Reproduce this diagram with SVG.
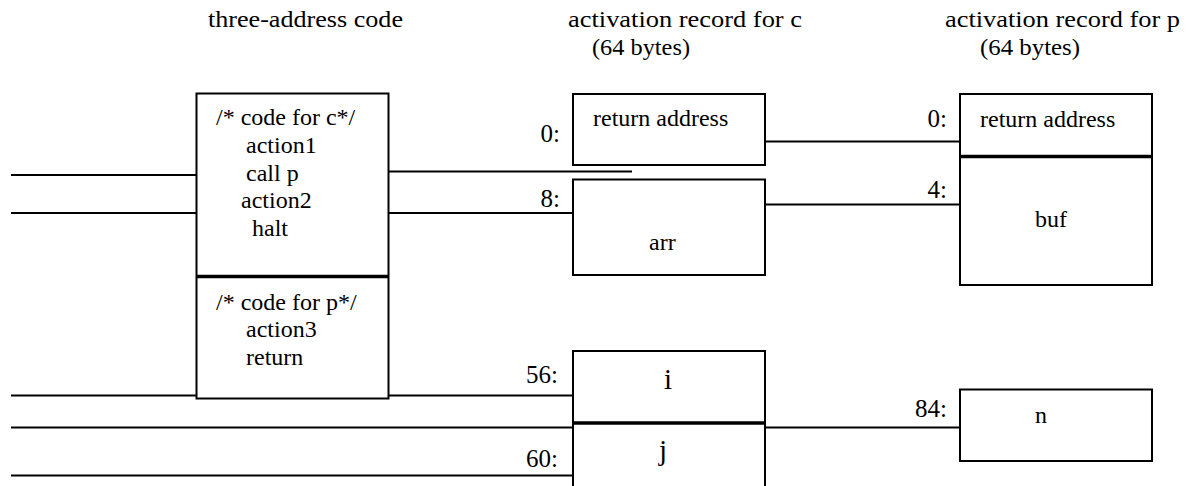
<svg xmlns="http://www.w3.org/2000/svg" width="1187" height="486" viewBox="0 0 1187 486">
<style>
text{font-family:"Liberation Serif","Times New Roman",serif;fill:#000}
.t{font-size:24px}
.b{font-size:24px}
.o{font-size:25px;text-anchor:end}
.big{font-size:29px;text-anchor:middle}
.box{fill:#fff;stroke:#000;stroke-width:2}
.div{stroke:#000;stroke-width:3.5}
.c line{stroke:#000;stroke-width:2}
</style>
<rect width="1187" height="486" fill="#fff"/>
<g id="titles">
<text class="t" x="208" y="27" textLength="195" lengthAdjust="spacingAndGlyphs">three-address code</text>
<text class="t" x="568" y="27" textLength="234" lengthAdjust="spacingAndGlyphs">activation record for c</text>
<text class="t" x="592" y="55" textLength="98" lengthAdjust="spacingAndGlyphs">(64 bytes)</text>
<text class="t" x="945" y="27" textLength="235" lengthAdjust="spacingAndGlyphs">activation record for p</text>
<text class="t" x="980" y="55" textLength="100" lengthAdjust="spacingAndGlyphs">(64 bytes)</text>
</g>
<g class="c" id="connectors">
<line x1="11" y1="175" x2="197" y2="175"/>
<line x1="11" y1="213" x2="197" y2="213"/>
<line x1="388" y1="171.5" x2="632" y2="171.5"/>
<line x1="388" y1="213" x2="573" y2="213"/>
<line x1="765" y1="141.5" x2="960" y2="141.5"/>
<line x1="765" y1="204.5" x2="960" y2="204.5"/>
<line x1="11" y1="395.5" x2="197" y2="395.5"/>
<line x1="388" y1="395.5" x2="573" y2="395.5"/>
<line x1="11" y1="427.5" x2="573" y2="427.5"/>
<line x1="765" y1="427.5" x2="960" y2="427.5"/>
<line x1="11" y1="475.5" x2="573" y2="475.5"/>
</g>
<g id="code">
<rect class="box" x="196.5" y="93.5" width="192" height="305"/>
<line class="div" x1="196.5" y1="276.5" x2="388.5" y2="276.5"/>
<text class="b" x="216" y="125">/* code for c*/</text>
<text class="b" x="246" y="153">action1</text>
<text class="b" x="246" y="181">call p</text>
<text class="b" x="241" y="208">action2</text>
<text class="b" x="252" y="236">halt</text>
<text class="b" x="216" y="310">/* code for p*/</text>
<text class="b" x="246" y="337">action3</text>
<text class="b" x="246" y="365">return</text>
</g>
<g id="c-retaddr">
<rect class="box" x="573" y="94" width="192" height="71"/>
<text class="b" x="593" y="126">return address</text>
<text class="o" x="560" y="142">0:</text>
</g>
<g id="c-arr">
<rect class="box" x="573" y="179.5" width="192" height="95.5"/>
<text class="b" x="649" y="250">arr</text>
<text class="o" x="560" y="207">8:</text>
</g>
<g id="c-ij">
<rect class="box" x="573" y="351" width="192" height="140"/>
<line class="div" x1="573" y1="423" x2="765" y2="423"/>
<text class="big" x="668" y="389">i</text>
<text class="big" x="663" y="460">j</text>
<text class="o" x="558" y="383">56:</text>
<text class="o" x="558" y="467">60:</text>
</g>
<g id="p-record">
<rect class="box" x="960" y="94" width="192" height="191"/>
<line class="div" x1="960" y1="156.5" x2="1152" y2="156.5"/>
<text class="b" x="980" y="127">return address</text>
<text class="b" x="1035" y="227">buf</text>
<text class="o" x="947" y="127">0:</text>
<text class="o" x="947" y="198">4:</text>
</g>
<g id="p-n">
<rect class="box" x="960" y="389.5" width="192" height="71.5"/>
<text class="b" x="1035" y="423">n</text>
<text class="o" x="947" y="417">84:</text>
</g>
</svg>
